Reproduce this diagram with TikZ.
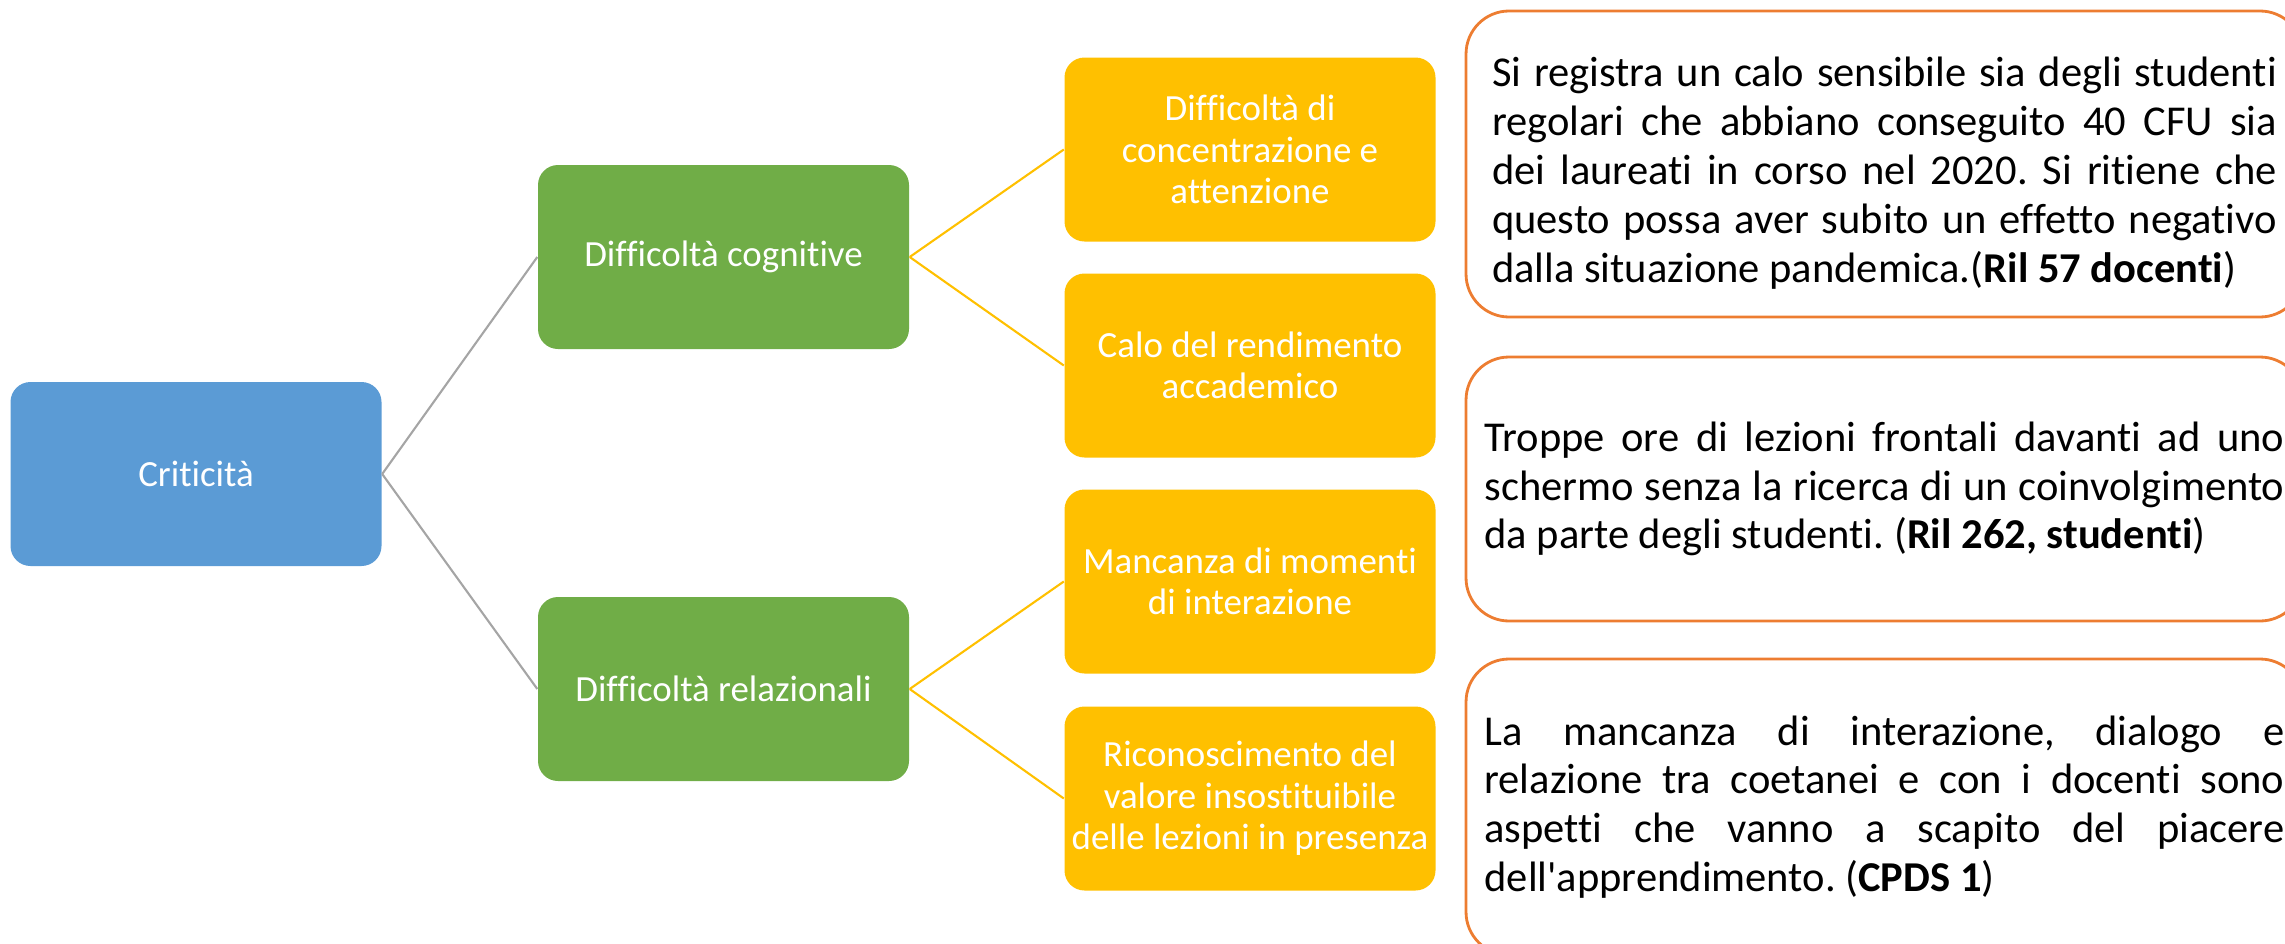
\documentclass[tikz,border=0pt]{standalone}
\usepackage{fontspec}
\setmainfont{Carlito}[Ligatures=NoCommon]
\usepackage{tikz}
\usetikzlibrary{positioning}
\definecolor{blu}{HTML}{5B9BD5}
\definecolor{verde}{HTML}{70AD47}
\definecolor{giallo}{HTML}{FFC000}
\definecolor{arancio}{HTML}{ED7D31}
\definecolor{grigio}{HTML}{A5A5A5}
\hyphenpenalty=10000
\exhyphenpenalty=10000
\frenchspacing

\begin{document}
\begin{tikzpicture}[x = 0.1mm, y = -0.1mm, on grid,
	box/.style = {rectangle, rounded corners = 2mm, minimum width = 37.1mm, minimum height = 18.4mm, inner sep = 0pt, align = center, text = white, font = \fontsize{10.5}{11.8}\selectfont},
	radice/.style = {box, fill = blu},
	ramo/.style = {box, fill = verde},
	foglia/.style = {box, fill = giallo},
	nota/.style = {draw = arancio, line width = 0.8pt, rounded corners = 4.3mm, minimum width = 83.7mm, inner sep = 0pt, align = justify, font = \fontsize{12.1}{13.9}\selectfont}]
	\useasboundingbox (0,0) rectangle (2285,943);

	\node[radice] (crit) at (196,474) {Criticità};
	\node[ramo, above right = 21.7mm and 52.75mm of crit] (cog) {Difficoltà cognitive};
	\node[ramo, below right = 21.5mm and 52.75mm of crit] (rel) {Difficoltà relazionali};

	\node[foglia, above right = 10.75mm and 52.65mm of cog] (conc) {Difficoltà di\\concentrazione e\\attenzione};
	\node[foglia, below right = 10.85mm and 52.65mm of cog] (calo) {Calo del rendimento\\accademico};
	\node[foglia, above right = 10.75mm and 52.65mm of rel] (mom) {Mancanza di momenti\\di interazione};
	\node[foglia, below right = 10.95mm and 52.65mm of rel] (ric) {Riconoscimento del\\valore insostituibile\\delle lezioni in presenza};

	\node[nota, minimum height = 30.6mm, text width = 78.5mm] (n1) at (1884.5,164) {\rule{0pt}{13.5pt}Si registra un calo sensibile sia degli studenti\linebreak regolari che abbiano conseguito 40 CFU sia\linebreak dei laureati in corso nel 2020. Si ritiene che\linebreak questo possa aver subito un effetto negativo\linebreak dalla situazione pandemica.(\textbf{Ril 57 docenti})};
	\node[nota, minimum height = 26.4mm, text width = 80mm] (n2) at (1884.5,489) {Troppe ore di lezioni frontali davanti ad uno\linebreak schermo senza la ricerca di un coinvolgimento\linebreak da parte degli studenti. (\textbf{Ril 262, studenti})};
	\node[nota, minimum height = 29.6mm, text width = 80mm] (n3) at (1884.5,807) {La mancanza di interazione, dialogo e\linebreak relazione tra coetanei e con i docenti sono\linebreak aspetti che vanno a scapito del piacere\linebreak dell\textquotesingle apprendimento. (\textbf{CPDS 1})};

	\draw[grigio, line width = 0.6pt] (crit.east) -- (cog.west)
		(crit.east) -- (rel.west);
	\draw[giallo, line width = 0.6pt] (cog.east) -- (conc.west)
		(cog.east) -- (calo.west)
		(rel.east) -- (mom.west)
		(rel.east) -- (ric.west);
\end{tikzpicture}
\end{document}
